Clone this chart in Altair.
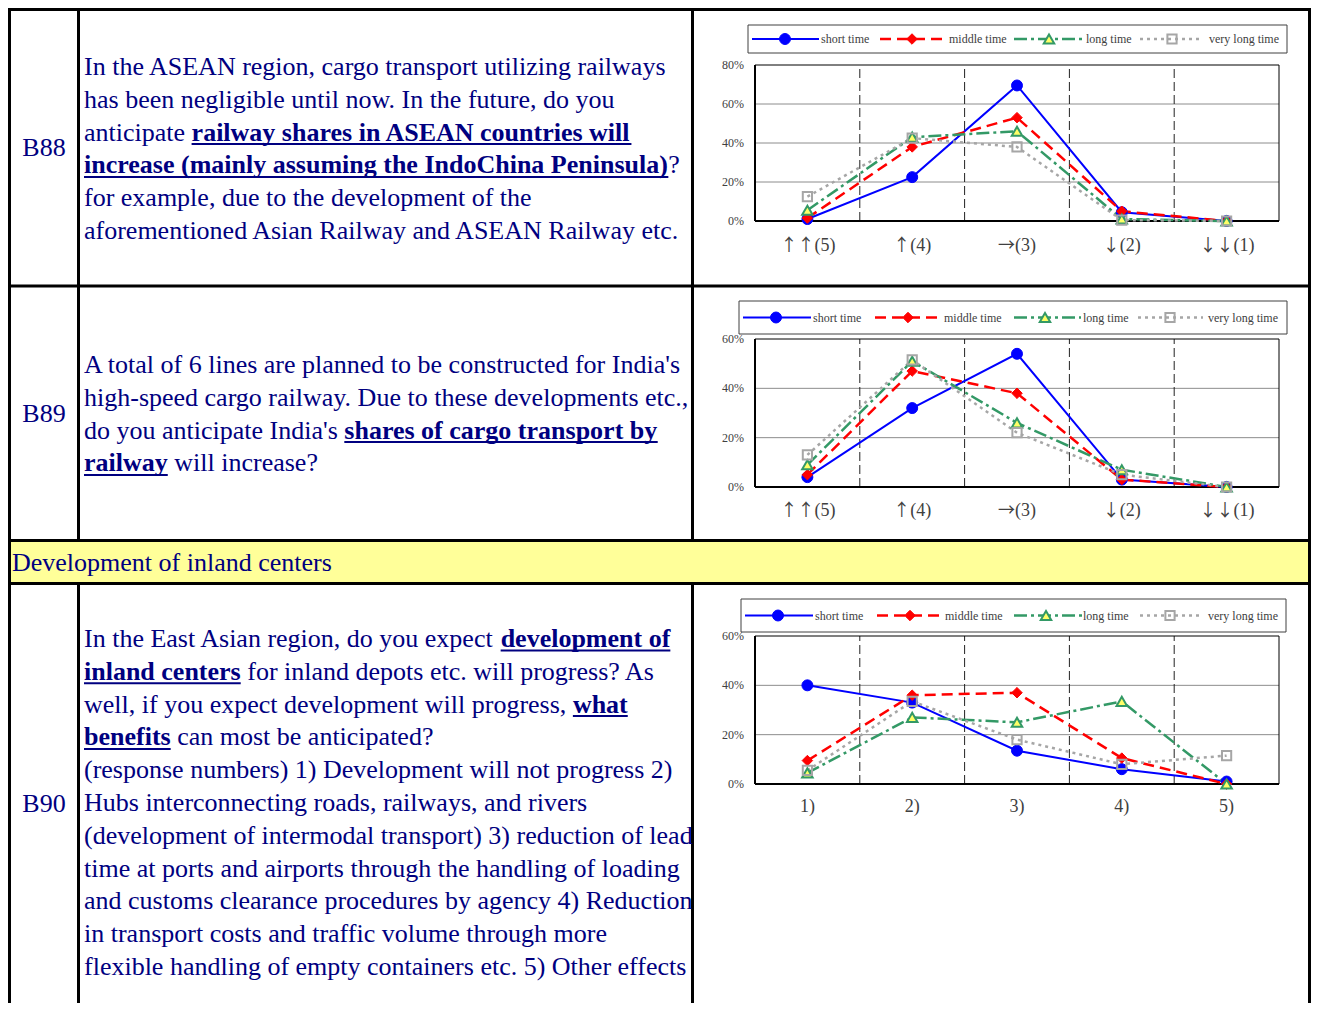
import altair as alt
import pandas as pd

# ---------------- data ----------------
SERIES = ["short time", "middle time", "long time", "very long time"]
CATS_ARROWS = ["↑↑(5)", "↑(4)", "→(3)", "↓(2)", "↓↓(1)"]
CATS_NUM = ["1)", "2)", "3)", "4)", "5)"]

B88_SHORT = [1, 22.5, 69.5, 4.5, 0]
B88_MIDDLE = [1.5, 38, 53, 5, 0]
B88_LONG = [5.5, 43, 46, 1, 0]
B88_VERYLONG = [12.5, 42.5, 38, 0.5, 0]

B89_SHORT = [4, 32, 54, 3, 0]
B89_MIDDLE = [5, 47, 38, 3, 0]
B89_LONG = [9, 51, 26, 7, 0]
B89_VERYLONG = [13, 51.5, 22, 5, 0]

B90_SHORT = [40, 33, 13.5, 6, 1]
B90_MIDDLE = [9.5, 36, 37, 10.5, 0]
B90_LONG = [4.5, 27, 25, 33.5, 0]
B90_VERYLONG = [5.5, 33.5, 18, 8, 11.5]

IDS = ["B88", "B89", "B90"]
SECTION = "Development of inland centers"

B88_LINES = [
    [("In the ASEAN region, cargo transport utilizing railways", False)],
    [("has been negligible until now. In the future, do you", False)],
    [("anticipate ", False), ("railway shares in ASEAN countries will", True)],
    [("increase (mainly assuming the IndoChina Peninsula)", True), ("?", False)],
    [("for example, due to the development of the", False)],
    [("aforementioned Asian Railway and ASEAN Railway etc.", False)],
]
B89_LINES = [
    [("A total of 6 lines are planned to be constructed for India's", False)],
    [("high-speed cargo railway. Due to these developments etc.,", False)],
    [("do you anticipate India's ", False), ("shares of cargo transport by", True)],
    [("railway", True), (" will increase?", False)],
]
B90_LINES = [
    [("In the East Asian region, do you expect ", False), ("development of", True)],
    [("inland centers", True), (" for inland depots etc. will progress? As", False)],
    [("well, if you expect development will progress, ", False), ("what", True)],
    [("benefits", True), (" can most be anticipated?", False)],
    [("(response numbers) 1) Development will not progress 2)", False)],
    [("Hubs interconnecting roads, railways, and rivers", False)],
    [("(development of intermodal transport) 3) reduction of lead", False)],
    [("time at ports and airports through the handling of loading", False)],
    [("and customs clearance procedures by agency 4) Reduction", False)],
    [("in transport costs and traffic volume through more", False)],
    [("flexible handling of empty containers etc. 5) Other effects", False)],
]

# ---------------- font metrics (Times / Liberation Serif) ----------------
LOW = "abcdefghijklmnopqrstuvwxyz"
UP = "ABCDEFGHIJKLMNOPQRSTUVWXYZ"
R_LOW = [444, 500, 444, 500, 444, 333, 500, 500, 278, 278, 500, 278, 778, 500, 500, 500, 500, 333, 389, 278, 500, 500, 722, 500, 500, 444]
R_UP = [722, 667, 667, 722, 611, 556, 722, 722, 333, 389, 722, 611, 889, 722, 722, 556, 722, 667, 556, 611, 722, 722, 944, 722, 722, 611]
B_LOW = [500, 556, 444, 556, 444, 333, 500, 556, 278, 333, 556, 278, 833, 556, 500, 556, 556, 444, 389, 333, 556, 500, 722, 500, 500, 444]
B_UP = [722, 667, 722, 722, 667, 611, 778, 778, 389, 500, 778, 667, 944, 722, 778, 611, 778, 722, 556, 667, 722, 722, 1000, 722, 722, 667]
ROMAN = dict(zip(LOW, R_LOW)); ROMAN.update(zip(UP, R_UP))
ROMAN.update({" ": 250, "(": 333, ")": 333, ",": 250, ".": 250, "?": 444, "'": 180, "-": 333})
BOLD = dict(zip(LOW, B_LOW)); BOLD.update(zip(UP, B_UP))
BOLD.update({" ": 250, "(": 333, ")": 333, ",": 250, ".": 250, "?": 500, "'": 278, "-": 333})

FONT = "Liberation Serif"
CJK = "Noto Sans CJK JP"
FS = 26
NAVY = "#000080"
LH = 32.8


def tw(s, bold):
    tab = BOLD if bold else ROMAN
    return sum(tab.get(c, 500) for c in s) * FS / 1000.0


# ---------------- layout (pixels from the chart's top-left) ----------------
TW, TH = 1303, 995
XL, XC1, XC2, XR = 1.5, 70.5, 684.5, 1301.5
YT, YR1, YR2, YR3 = 1.5, 278, 532.5, 575.5
BORDER = 3
TEXT_X = 76

PX = alt.Scale(domain=[0, TW], range=[0, TW], nice=False, zero=False)
PY = alt.Scale(domain=[0, TH], range=[0, TH], nice=False, zero=False)


def one_row():
    return alt.Data(values=[{"k": 0}])


layers = []

# yellow section band
layers.append(alt.Chart(one_row()).mark_rect(fill="#FFFF99").encode(
    x=alt.value(XL), x2=alt.value(XR), y=alt.value(YR2), y2=alt.value(YR3)))

# table grid lines
segs = []
for y in (YT, YR1, YR2, YR3):
    segs.append({"x": 0, "x2": TW, "y": y, "y2": y})
for x in (XL, XR):
    segs.append({"x": x, "x2": x, "y": 0, "y2": TH})
for x in (XC1, XC2):
    segs.append({"x": x, "x2": x, "y": 0, "y2": YR2})
    segs.append({"x": x, "x2": x, "y": YR3, "y2": TH})
layers.append(alt.Chart(alt.Data(values=segs)).mark_rule(color="black", strokeWidth=BORDER).encode(
    x=alt.X("x:Q", scale=PX, axis=None), x2="x2:Q",
    y=alt.Y("y:Q", scale=PY, axis=None), y2="y2:Q"))

# ID labels and section title
id_rows = [{"x": 36, "y": yb, "t": t} for t, yb in zip(IDS, (148, 414, 804))]
id_rows.append({"x": 4, "y": 563, "t": SECTION})
layers.append(alt.Chart(alt.Data(values=id_rows[:3])).mark_text(
    font=FONT, fontSize=FS, color=NAVY, align="center", baseline="alphabetic").encode(
    x=alt.X("x:Q", scale=PX, axis=None), y=alt.Y("y:Q", scale=PY, axis=None), text="t:N"))
layers.append(alt.Chart(alt.Data(values=id_rows[3:])).mark_text(
    font=FONT, fontSize=FS, color=NAVY, align="left", baseline="alphabetic").encode(
    x=alt.X("x:Q", scale=PX, axis=None), y=alt.Y("y:Q", scale=PY, axis=None), text="t:N"))

# question texts
norm, bold, ul = [], [], []
for lines, base0 in ((B88_LINES, 67), (B89_LINES, 365), (B90_LINES, 639)):
    for i, segl in enumerate(lines):
        x = float(TEXT_X)
        yb = base0 + i * LH
        for txt, b in segl:
            lead = len(txt) - len(txt.lstrip(" "))
            x += tw(" " * lead, b)
            txt = txt.lstrip(" ")
            w = tw(txt, b)
            (bold if b else norm).append({"x": x, "y": yb, "t": txt})
            if b:
                ul.append({"x": x, "x2": x + w, "y": yb + 3.5})
            x += w
layers.append(alt.Chart(alt.Data(values=norm)).mark_text(
    font=FONT, fontSize=FS, color=NAVY, align="left", baseline="alphabetic").encode(
    x=alt.X("x:Q", scale=PX, axis=None), y=alt.Y("y:Q", scale=PY, axis=None), text="t:N"))
layers.append(alt.Chart(alt.Data(values=bold)).mark_text(
    font=FONT, fontSize=FS, fontWeight="bold", color=NAVY, align="left", baseline="alphabetic").encode(
    x=alt.X("x:Q", scale=PX, axis=None), y=alt.Y("y:Q", scale=PY, axis=None), text="t:N"))
layers.append(alt.Chart(alt.Data(values=ul)).mark_rule(color=NAVY, strokeWidth=2).encode(
    x=alt.X("x:Q", scale=PX, axis=None), x2="x2:Q", y=alt.Y("y:Q", scale=PY, axis=None)))

STYLE = {
    "short time": dict(color="#0000FF", dash=None, width=2, shape="circle", size=120,
                       fill="#0000FF", sw=1),
    "middle time": dict(color="#FF0000", dash=[11, 6], width=2.5, shape="diamond", size=110,
                        fill="#FF0000", sw=1),
    "long time": dict(color="#339966", dash=[13, 4, 3, 4], width=2.5, shape="triangle-up",
                      size=110, fill="#FFFF66", sw=2),
    "very long time": dict(color="#A6A6A6", dash=[3, 4], width=2.5, shape="square", size=85,
                           fill=None, sw=2),
}
LABEL_GRAY = "#404040"


def line_mark(st):
    kw = dict(color=st["color"], strokeWidth=st["width"])
    if st["dash"]:
        kw["strokeDash"] = st["dash"]
    return kw


def point_mark(st):
    if st["fill"]:
        return dict(shape=st["shape"], filled=True, fill=st["fill"], stroke=st["color"],
                    strokeWidth=st["sw"], size=st["size"], opacity=1)
    return dict(shape=st["shape"], filled=False, color=st["color"], strokeWidth=st["sw"],
                size=st["size"], opacity=1)


PLOT_X0, PLOT_X1 = 747, 1271
YLAB_X = 736


def chart_layers(cats, vals, ymax, top, bottom, xlab_y, leg):
    out = []
    n = len(cats)
    step = (PLOT_X1 - PLOT_X0) / n
    X = alt.Scale(domain=[-0.5, n - 0.5], range=[PLOT_X0, PLOT_X1], nice=False, zero=False)
    Ys = alt.Scale(domain=[0, ymax], range=[bottom, top], nice=False, zero=False)
    rows = [{"s": s, "i": k, "v": vals[j][k]} for j, s in enumerate(SERIES) for k in range(n)]
    data = alt.Data(values=rows)
    ticks = list(range(0, ymax + 1, 20))
    frame = [{"a": -0.5, "b": n - 0.5, "v0": 0, "v1": ymax}]
    out.append(alt.Chart(alt.Data(values=frame)).mark_rect(fill="white").encode(
        x=alt.X("a:Q", scale=X, axis=None), x2="b:Q",
        y=alt.Y("v0:Q", scale=Ys, axis=None), y2="v1:Q"))
    grid = [{"v": t, "a": -0.5, "b": n - 0.5} for t in ticks if 0 < t < ymax]
    out.append(alt.Chart(alt.Data(values=grid)).mark_rule(color="#8C8C8C", strokeWidth=1).encode(
        x=alt.X("a:Q", scale=X, axis=None), x2="b:Q", y=alt.Y("v:Q", scale=Ys, axis=None)))
    seps = [{"i": k + 0.5, "v0": 0, "v1": ymax} for k in range(n - 1)]
    out.append(alt.Chart(alt.Data(values=seps)).mark_rule(
        color="#222222", strokeWidth=1, strokeDash=[9, 4]).encode(
        x=alt.X("i:Q", scale=X, axis=None), y=alt.Y("v0:Q", scale=Ys, axis=None), y2="v1:Q"))
    out.append(alt.Chart(alt.Data(values=frame)).mark_rect(
        fillOpacity=0, stroke="black", strokeWidth=1).encode(
        x=alt.X("a:Q", scale=X, axis=None), x2="b:Q",
        y=alt.Y("v0:Q", scale=Ys, axis=None), y2="v1:Q"))
    out.append(alt.Chart(alt.Data(values=frame)).mark_rule(color="black", strokeWidth=2).encode(
        x=alt.X("a:Q", scale=X, axis=None), x2="b:Q", y=alt.Y("v0:Q", scale=Ys, axis=None)))
    out.append(alt.Chart(alt.Data(values=frame)).mark_rule(color="black", strokeWidth=2).encode(
        x=alt.X("a:Q", scale=X, axis=None), y=alt.Y("v0:Q", scale=Ys, axis=None), y2="v1:Q"))
    for s in SERIES:
        st = STYLE[s]
        out.append(alt.Chart(data).transform_filter(alt.datum.s == s).mark_line(**line_mark(st)).encode(
            x=alt.X("i:Q", scale=X, axis=None), y=alt.Y("v:Q", scale=Ys, axis=None)))
    for s in SERIES:
        st = STYLE[s]
        out.append(alt.Chart(data).transform_filter(alt.datum.s == s).mark_point(**point_mark(st)).encode(
            x=alt.X("i:Q", scale=X, axis=None), y=alt.Y("v:Q", scale=Ys, axis=None)))
    ylabs = [{"v": t, "lab": f"{t}%"} for t in ticks]
    out.append(alt.Chart(alt.Data(values=ylabs)).mark_text(
        font=FONT, fontSize=12, color=LABEL_GRAY, align="right", baseline="middle").encode(
        x=alt.value(YLAB_X), y=alt.Y("v:Q", scale=Ys, axis=None), text="lab:N"))
    # category labels: arrow part (full-width glyphs) + number part
    arr_rows, num_rows = [], []
    for k, c in enumerate(cats):
        if "(" in c:
            a, nm = c[:c.index("(")], c[c.index("("):]
            wa, wn = 18 * len(a), 22
            split = k + ((wa - wn) / 2) / step
            arr_rows.append({"i": split, "lab": a})
            num_rows.append({"i": split, "lab": nm})
        else:
            num_rows.append({"i": k, "lab": c})
    if arr_rows:
        out.append(alt.Chart(alt.Data(values=arr_rows)).mark_text(
            font=CJK, fontSize=17, color=LABEL_GRAY, align="right", baseline="middle").encode(
            x=alt.X("i:Q", scale=X, axis=None), y=alt.value(xlab_y), text="lab:N"))
        out.append(alt.Chart(alt.Data(values=num_rows)).mark_text(
            font=FONT, fontSize=18, color=LABEL_GRAY, align="left", baseline="middle").encode(
            x=alt.X("i:Q", scale=X, axis=None), y=alt.value(xlab_y), text="lab:N"))
    else:
        out.append(alt.Chart(alt.Data(values=num_rows)).mark_text(
            font=FONT, fontSize=18, color=LABEL_GRAY, align="center", baseline="middle").encode(
            x=alt.X("i:Q", scale=X, axis=None), y=alt.value(xlab_y), text="lab:N"))
    # legend
    bx0, by0, bx1, by1 = leg["box"]
    ly = (by0 + by1) / 2
    out.append(alt.Chart(one_row()).mark_rect(fill="white", stroke="#404040", strokeWidth=1).encode(
        x=alt.value(bx0), x2=alt.value(bx1), y=alt.value(by0), y2=alt.value(by1)))
    for s, (lx0, lx1, mx, tx) in zip(SERIES, leg["items"]):
        st = STYLE[s]
        out.append(alt.Chart(one_row()).mark_rule(**line_mark(st)).encode(
            x=alt.value(lx0), x2=alt.value(lx1), y=alt.value(ly)))
        out.append(alt.Chart(one_row()).mark_point(**point_mark(st)).encode(
            x=alt.value(mx), y=alt.value(ly)))
        out.append(alt.Chart(one_row()).mark_text(
            font=FONT, fontSize=12, color=LABEL_GRAY, align="left", baseline="middle").encode(
            x=alt.value(tx), y=alt.value(ly), text=alt.value(s)))
    return out


LEG1 = dict(box=(740, 17, 1279, 45),
            items=[(744, 811, 777, 813), (872, 937, 904, 941), (1006, 1075, 1041, 1078), (1132, 1193, 1164, 1201)])
LEG2 = dict(box=(731, 293, 1279, 326),
            items=[(735, 803, 768, 805), (867, 933, 900, 936), (1006, 1073, 1037, 1075), (1130, 1195, 1162, 1200)])
LEG3 = dict(box=(733, 591, 1278, 624),
            items=[(737, 805, 770, 807), (869, 935, 902, 937), (1006, 1075, 1038, 1075), (1132, 1195, 1162, 1200)])

layers += chart_layers(CATS_ARROWS, [B88_SHORT, B88_MIDDLE, B88_LONG, B88_VERYLONG], 80, 57, 213, 238, LEG1)
layers += chart_layers(CATS_ARROWS, [B89_SHORT, B89_MIDDLE, B89_LONG, B89_VERYLONG], 60, 331, 479, 503, LEG2)
layers += chart_layers(CATS_NUM, [B90_SHORT, B90_MIDDLE, B90_LONG, B90_VERYLONG], 60, 628, 776, 799, LEG3)

chart = alt.layer(*layers).resolve_scale(x="independent", y="independent").properties(
    width=TW, height=TH, padding=0,
    autosize=alt.AutoSizeParams(type="none"),
).configure_view(strokeWidth=0, fill="white")

chart.save("out.html", embed_options={"renderer": "svg", "actions": False})
